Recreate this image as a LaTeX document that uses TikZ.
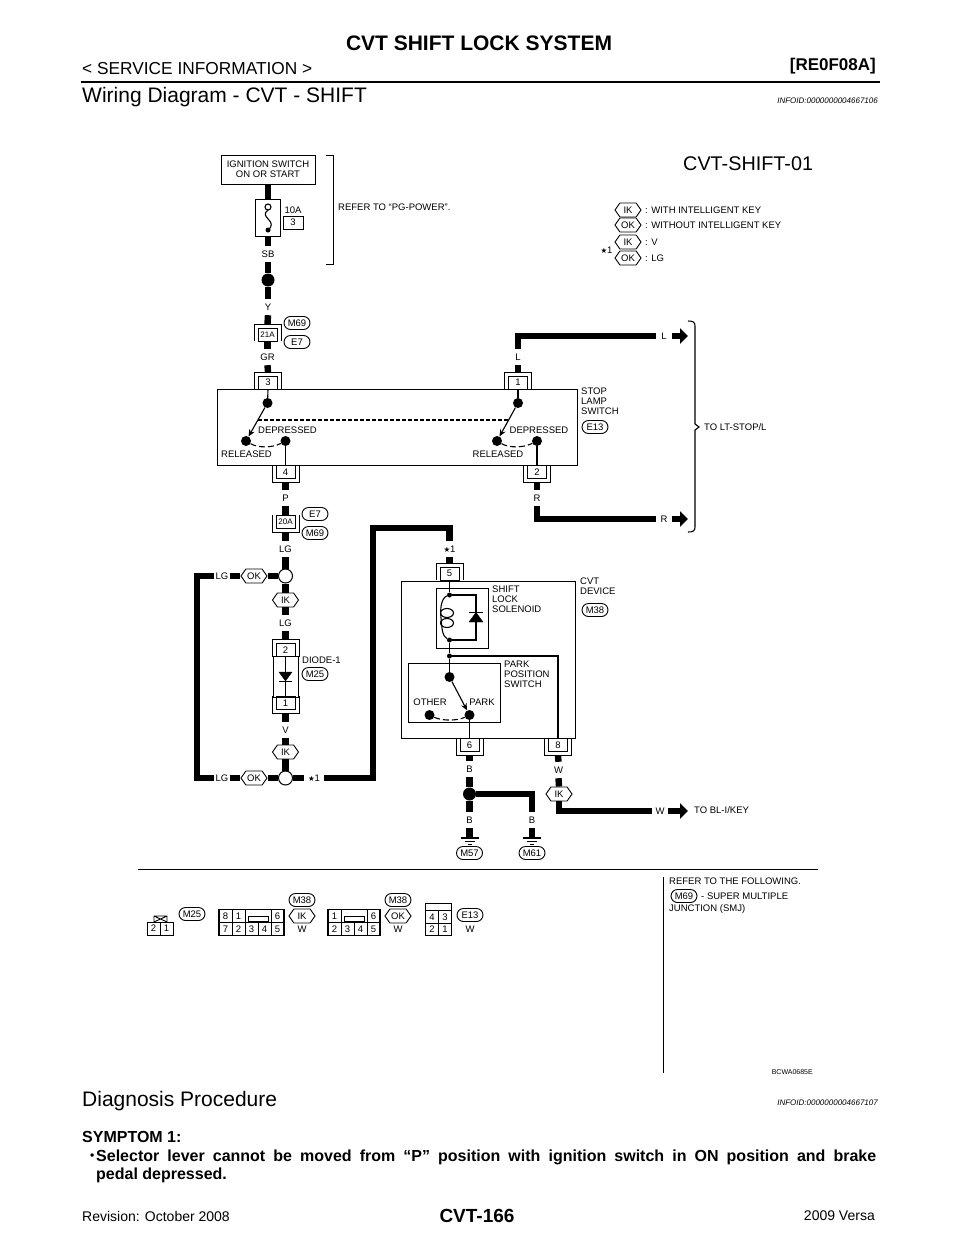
\documentclass[tikz,border=0pt]{standalone}
\usepackage{fontspec}
\setmainfont{Liberation Sans}
\newfontfamily\symfont{DejaVu Sans}
\usetikzlibrary{shapes.misc,shapes.symbols,arrows.meta,calc}
\newcommand{\lblfont}{\fontsize{9.5}{10}\selectfont}
\newcommand{\starmark}{{\symfont\fontsize{7.5}{8}\selectfont ★}1}
\tikzset{
  wire/.style={line width=6.4pt,black},
  thin wire/.style={line width=1.1pt},
  frame/.style={draw,line width=1pt,inner sep=0pt,fill=white},
  lbl/.style={font=\lblfont,inner sep=0pt},
  wlbl/.style={lbl,minimum height=16pt},
  hlbl/.style={lbl,minimum width=15pt},
  term/.style={draw,line width=.9pt,font=\lblfont,inner sep=0pt,minimum width=19pt,minimum height=13pt,fill=white},
  brk/.style={line width=.9pt},
  pill/.style={draw,line width=.9pt,rounded rectangle,font=\lblfont,inner sep=0pt,minimum width=26pt,minimum height=13pt,fill=white},
  hexa/.style={draw,line width=.9pt,signal,signal to=east and west,signal pointer angle=110,font=\lblfont,inner sep=0pt,minimum width=26pt,minimum height=14pt,fill=white},
  bigdot/.style={circle,fill=black,inner sep=0pt,minimum size=13pt},
  swdot/.style={circle,fill=black,inner sep=0pt,minimum size=10pt},
  smalldot/.style={circle,fill=black,inner sep=0pt,minimum size=5pt},
  opendot/.style={circle,draw,line width=1pt,inner sep=0pt,minimum size=14pt,fill=white},
  lever/.style={line width=1.1pt,-{Stealth[length=7pt,width=6pt]}},
  togo/.style={wire,-{Triangle[length=8pt,width=15pt]}},
  cell/.style={draw,line width=.9pt,font=\lblfont,inner sep=0pt,minimum width=13pt,minimum height=13pt},
}
\begin{document}
\begin{tikzpicture}[x=1pt,y=-1pt]
\useasboundingbox (0,0) rectangle (960,1242);
% page text
\node[font=\bfseries\fontsize{21}{22}\selectfont,inner sep=0pt] (title) at (479,43) {CVT SHIFT LOCK SYSTEM};
\node[font=\fontsize{17.3}{18}\selectfont,anchor=west,inner sep=0pt] (service) at (82,69) {< SERVICE INFORMATION >};
\node[font=\bfseries\fontsize{17}{18}\selectfont,anchor=east,inner sep=0pt] (model) at (876,66.5) {[RE0F08A]};
\draw[line width=2.5pt] (81,82) -- (880,82);
\node[font=\fontsize{21}{22}\selectfont,anchor=west,inner sep=0pt] (head1) at (82,97.5) {Wiring Diagram - CVT - SHIFT};
\node[font=\itshape\fontsize{8}{9}\selectfont,anchor=east,inner sep=0pt] (info1) at (878,101) {INFOID:0000000004667106};
\node[font=\fontsize{19.8}{21}\selectfont,anchor=west,inner sep=0pt] (title2) at (683,164) {CVT-SHIFT-01};
% power part
\node[frame,font=\lblfont,align=center,minimum width=94pt,minimum height=29pt] (ign) at (268,169.5) {IGNITION SWITCH\\ON OR START};
\node[frame,minimum width=25pt,minimum height=37pt] (fuse) at (268,217.5) {};
\draw[wire] (ign.south) -- (fuse.north);
\draw[line width=1.1pt] (268,210) .. controls (258,217) and (279,221) .. (268,230);
\node[circle,draw,line width=1.1pt,inner sep=0pt,minimum size=6pt,fill=white] (fusea) at (268,207) {};
\node[smalldot] (fuseb) at (268,230) {};
\node[lbl] (amp) at (293,210) {10A};
\node[frame,font=\lblfont,minimum width=20pt,minimum height=13pt] (slot) at (293,222.5) {3};
\node[wlbl] (sb) at (268,254) {SB};
\draw[wire] (fuse.south) -- (sb.north);
\node[bigdot] (jc) at (268,280) {};
\draw[wire] (sb.south) -- (jc.north);
\node[wlbl] (y) at (268,307) {Y};
\draw[wire] (jc.south) -- (y.north);
\draw[line width=1pt] (326,155) -- (333,155) -- (333,264) -- (326,264);
\node[lbl,anchor=west] (refer) at (338,207) {REFER TO “PG-POWER”.};
% legend
\foreach \nm/\py/\lab/\txt in {lega/210/IK/WITH INTELLIGENT KEY,legb/225/OK/WITHOUT INTELLIGENT KEY,legc/242/IK/V,legd/258/OK/LG}{
  \node[hexa] (\nm) at (628,\py) {\lab};
  \node[lbl,anchor=west] (\nm t) at (645,\py) {: \txt};
}
\node[lbl] (legstar) at (606.5,250) {\starmark};
% terminals, bracket on top
\foreach \nm/\px/\py/\lab in {t3/268/382.5/3,t1/518/382.5/1,j21/267.5/334.5/\fontsize{8}{8}\selectfont 21A,t5/449.5/573.5/5,d2/285.5/650/2}{
  \node[term] (\nm) at (\px,\py) {\lab};
  \draw[brk] ([xshift=-3.5pt]\nm.south west) |- ([yshift=3.5pt]\nm.north) -| ([xshift=3.5pt]\nm.south east);
}
% terminals, bracket below
\foreach \nm/\px/\py/\lab in {t4/285.5/472/4,t2/537/472/2,j20/285.5/521.5/\fontsize{8}{8}\selectfont 20A,t6/469.5/745/6,t8/558/745/8,d1/285.5/703/1}{
  \node[term] (\nm) at (\px,\py) {\lab};
  \draw[brk] ([xshift=-3.5pt]\nm.north west) |- ([yshift=-3.5pt]\nm.south) -| ([xshift=3.5pt]\nm.north east);
}
\draw[wire] (y.south) -- ([yshift=3.5pt]j21.north);
\node[wlbl] (gr) at (267.5,357) {GR};
\draw[wire] (j21.south) -- (gr.north);
\draw[wire] (gr.south) -- ([yshift=3.5pt]t3.north);
\node[pill] (m69a) at (297,323) {M69};
\node[pill] (e7a) at (297,342) {E7};
% stop lamp switch
\node[frame,minimum width=360pt,minimum height=76pt,fill=none] (stop) at (397,427) {};
\foreach \nm/\px/\py in {swa/267.5/403,swb/518/403,rela/246/441,depa/285.5/441,relb/497/441,depb/537/441}{
  \node[swdot] (\nm) at (\px,\py) {};
}
\draw[thin wire] (t3.south) -- (swa);
\draw[thin wire] (t1.south) -- (swb);
\draw[thin wire] (depa) -- (t4.north);
\draw[thin wire] (depb) -- (t2.north);
\draw[lever] (swa) -- (rela);
\draw[lever] (swb) -- (relb);
\draw[line width=1.1pt,dash pattern=on 6pt off 3pt] (rela) .. controls (258,448) and (272,448) .. (depa);
\draw[line width=1.1pt,dash pattern=on 6pt off 3pt] (relb) .. controls (509,448) and (523,448) .. (depb);
\coordinate (linka) at (258,420);
\coordinate (linkb) at (509,420);
\draw[line width=1.1pt,dash pattern=on 3.5pt off 2.5pt] (linka) -- (linkb);
\foreach \nm/\px/\py/\lab in {da/287.5/430/DEPRESSED,ra/246.5/454/RELEASED,db/539/430/DEPRESSED,rb/498/454/RELEASED}{
  \node[lbl] (\nm) at (\px,\py) {\lab};
}
\node[lbl,anchor=north west,align=left] (stopname) at (581,388) {STOP\\LAMP\\SWITCH};
\node[pill] (e13a) at (595,427) {E13};
% outgoing to LT-STOP
\node[wlbl] (l) at (518,357) {L};
\draw[wire] (l.south) -- ([yshift=3.5pt]t1.north);
\node[hlbl] (lout) at (664,336) {L};
\draw[wire] (l.north) -- (518,336) -- (lout.west);
\coordinate (lend) at (688,336);
\draw[togo] (lout.east) -- (lend);
\node[wlbl] (r) at (537,498) {R};
\draw[wire] ([yshift=-3.5pt]t2.south) -- (r.north);
\node[hlbl] (rout) at (664,519) {R};
\draw[wire] (r.south) -- (537,519) -- (rout.west);
\coordinate (rend) at (688,519);
\draw[togo] (rout.east) -- (rend);
\draw[line width=1.1pt] (688,321) .. controls (693,321) and (695,322) .. (695,326) -- (695,424) -- (699,427) -- (695,430) -- (695,527) .. controls (695,531) and (693,532) .. (688,532);
\node[lbl,anchor=west] (ltstop) at (704,427) {TO LT-STOP/L};
% left column
\node[wlbl] (p) at (285.5,498) {P};
\draw[wire] ([yshift=-3.5pt]t4.south) -- (p.north);
\draw[wire] (p.south) -- (j20.north);
\node[pill] (e7b) at (315,514) {E7};
\node[pill] (m69b) at (315,533) {M69};
\node[wlbl] (lga) at (285.5,549) {LG};
\draw[wire] ([yshift=-3.5pt]j20.south) -- (lga.north);
\node[opendot] (ja) at (285.5,576) {};
\draw[wire] (lga.south) -- (ja.north);
\node[hexa] (oka) at (254,576) {OK};
\draw[wire] (oka.east) -- (ja.west);
\node[hexa] (ika) at (285.5,600) {IK};
\draw[wire] (ja.south) -- (ika.north);
\node[wlbl] (lgb) at (285.5,623) {LG};
\draw[wire] (ika.south) -- (lgb.north);
\draw[wire] (lgb.south) -- ([yshift=3.5pt]d2.north);
\node[frame,minimum width=25pt,minimum height=41pt,fill=none] (diode) at (285.5,676.5) {};
\draw[thin wire] (d2.south) -- (d1.north);
\draw[fill=black] (279,672) -- (292,672) -- (285.5,681) -- cycle;
\draw[thin wire] (279,681.5) -- (292,681.5);
\node[lbl,anchor=west] (diodename) at (302,660) {DIODE-1};
\node[pill] (m25a) at (315,674) {M25};
\node[wlbl] (v) at (285.5,730) {V};
\draw[wire] ([yshift=-3.5pt]d1.south) -- (v.north);
\node[hexa] (ikb) at (285.5,752) {IK};
\draw[wire] (v.south) -- (ikb.north);
\node[opendot] (jb) at (285.5,778) {};
\draw[wire] (ikb.south) -- (jb.north);
\node[hexa] (okb) at (254,778) {OK};
\draw[wire] (okb.east) -- (jb.west);
\node[hlbl] (lgc) at (222,576) {LG};
\node[hlbl] (lgd) at (222,778) {LG};
\draw[wire] (lgc.east) -- (oka.west);
\draw[wire] (lgd.east) -- (okb.west);
\draw[wire] (lgc.west) -- (197,576) -- (197,778) -- (lgd.west);
\node[lbl,minimum width=20pt] (stara) at (314,778) {\starmark};
\draw[wire] (jb.east) -- (stara.west);
\node[lbl,minimum height=16pt] (starb) at (449.5,549) {\starmark};
\draw[wire] (stara.east) -- (373,778) -- (373,528) -- (449.5,528) -- (starb.north);
\draw[wire] (starb.south) -- ([yshift=3.5pt]t5.north);
% cvt device
\node[frame,minimum width=174pt,minimum height=157pt,fill=none] (device) at (488,659.5) {};
\node[frame,minimum width=52pt,minimum height=60pt,fill=none] (sol) at (462,618) {};
\node[frame,minimum width=92pt,minimum height=59pt,fill=none] (pps) at (454,692.5) {};
\foreach \nm/\py in {soltop/595,solbot/640,branch/656}{
  \node[smalldot] (\nm) at (449.5,\py) {};
}
\node[swdot] (parkin) at (449.5,677) {};
\node[swdot] (park) at (469.5,715) {};
\node[swdot] (other) at (429.5,715) {};
\draw[thin wire] (t5.south) -- (soltop);
\draw[thin wire] (solbot) -- (branch);
\draw[line width=1.5pt] (branch) -- (parkin);
\draw[thin wire] (soltop) -| (476,617);
\draw[thin wire] (476,622) |- (solbot);
\draw[fill=black] (476,612.5) -- (483,622) -- (469,622) -- cycle;
\draw[thin wire] (469,612.5) -- (483,612.5);
\draw[thin wire] (soltop) .. controls (441,598) and (440,610) .. (441,618) .. controls (442,628) and (442,636) .. (solbot);
\draw[thin wire] (447,613) ellipse (6.5 and 4.5);
\draw[thin wire] (447,623) ellipse (6.5 and 4.5);
\draw[thin wire] (branch) -| (t8.north);
\draw[lever] (parkin) -- (park);
\draw[line width=1.1pt,dash pattern=on 6pt off 3pt] (other) .. controls (442,721) and (457,721) .. (park);
\draw[thin wire] (park) -- (t6.north);
\node[lbl,anchor=north west,align=left] (solname) at (492,586) {SHIFT\\LOCK\\SOLENOID};
\node[lbl,anchor=north west,align=left] (ppsname) at (504,661) {PARK\\POSITION\\SWITCH};
\node[lbl,anchor=north west,align=left] (devname) at (580,578) {CVT\\DEVICE};
\node[pill] (m38a) at (595,610) {M38};
\node[lbl] (oth) at (430,702) {OTHER};
\node[lbl] (prk) at (482,702) {PARK};
% grounds
\node[wlbl] (ba) at (469.5,769) {B};
\draw[wire] ([yshift=-3.5pt]t6.south) -- (ba.north);
\node[bigdot] (jd) at (469.5,794) {};
\draw[wire] (ba.south) -- (jd.north);
\node[wlbl] (bb) at (469.5,820) {B};
\draw[wire] (jd.south) -- (bb.north);
\node[wlbl] (bc) at (532,820) {B};
\draw[wire] (jd.east) -- (532,794) -- (bc.north);
\foreach \nm/\px/\lab in {gndb/469.5/M57,gndc/532/M61}{
  \coordinate (\nm) at (\px,838);
  \draw[line width=1.1pt] ([xshift=-9pt]\nm) -- ([xshift=9pt]\nm);
  \draw[line width=1.1pt] ($(\nm)+(-5,3.5)$) -- ($(\nm)+(5,3.5)$);
  \draw[line width=1.1pt] ($(\nm)+(-2,6.5)$) -- ($(\nm)+(2,6.5)$);
  \node[pill] (\nm m) at (\px,853) {\lab};
}
\draw[wire] (bb.south) -- (gndb);
\draw[wire] (bc.south) -- (gndc);
\node[wlbl] (wa) at (558.5,770) {W};
\draw[wire] ([yshift=-3.5pt]t8.south) -- (wa.north);
\node[hexa] (ikc) at (559,794) {IK};
\draw[wire] (wa.south) -- (ikc.north);
\node[hlbl] (wb) at (660,811) {W};
\draw[wire] (ikc.south) -- (559,811) -- (wb.west);
\coordinate (wend) at (688,811);
\draw[togo] (wb.east) -- (wend);
\node[lbl,anchor=west] (blkey) at (694,810) {TO BL-I/KEY};
% connector views
\draw[line width=1.2pt] (138,869.5) -- (818,869.5);
\draw[line width=1pt] (663,877) -- (663,1073);
\node[lbl,anchor=west] (refa) at (669,881) {REFER TO THE FOLLOWING.};
\node[pill] (m69c) at (684,896) {M69};
\node[lbl,anchor=west] (refb) at (701,896) {- SUPER MULTIPLE};
\node[lbl,anchor=west] (refc) at (669,909) {JUNCTION (SMJ)};
\node[font=\fontsize{7}{7}\selectfont,inner sep=0pt,anchor=east] (code) at (813,1072) {BCWA0685E};
% M25
\foreach \nm/\px/\lab in {ca/153.5/2,cb/166.5/1}{
  \node[cell] (\nm) at (\px,928.5) {\lab};
}
\draw[line width=.9pt] (154,922) -- (154,916) -- (167,916) -- (167,922) -- (154,916) (167,916) -- (154,922);
\node[pill] (m25b) at (192,914) {M25};
% M38 with IK
\foreach \nm/\px/\lab in {cc/225.5/8,cd/238.5/1,ce/277.5/6}{
  \node[cell] (\nm) at (\px,916) {\lab};
}
\foreach \nm/\px/\lab in {cf/225.5/7,cg/238.5/2,ch/251.5/3,ci/264.5/4,cj/277.5/5}{
  \node[cell] (\nm) at (\px,929) {\lab};
}
\draw[line width=1.4pt] (219,909.5) rectangle (284,935.5);
\draw[line width=.9pt] (248,916) rectangle (268,921);
\node[pill] (m38b) at (302,900) {M38};
\node[hexa] (ikd) at (302,916) {IK};
\node[lbl] (wc) at (302,929) {W};
% M38 with OK
\foreach \nm/\px/\lab in {ck/334.5/1,cl/373.5/6}{
  \node[cell] (\nm) at (\px,916) {\lab};
}
\foreach \nm/\px/\lab in {cm/334.5/2,cn/347.5/3,co/360.5/4,cp/373.5/5}{
  \node[cell] (\nm) at (\px,929) {\lab};
}
\draw[line width=1.4pt] (328,909.5) rectangle (380,935.5);
\draw[line width=.9pt] (344,916) rectangle (364,921);
\node[pill] (m38c) at (398,900) {M38};
\node[hexa] (okc) at (398,916) {OK};
\node[lbl] (wd) at (398,929) {W};
% E13
\foreach \nm/\px/\py/\lab in {cq/432/917/4,cr/445/917/3,cs/432/929.5/2,ct/445/929.5/1}{
  \node[cell,minimum height=12.5pt] (\nm) at (\px,\py) {\lab};
}
\draw[line width=1.4pt] (425.5,903.5) rectangle (451.5,935.5);
\draw[line width=.9pt] (425.5,910.5) -- (451.5,910.5);
\node[pill] (e13b) at (470,915) {E13};
\node[lbl] (we) at (470,929) {W};
% procedure text
\node[font=\fontsize{21}{22}\selectfont,anchor=west,inner sep=0pt] (head2) at (82,1101.5) {Diagnosis Procedure};
\node[font=\itshape\fontsize{8}{9}\selectfont,anchor=east,inner sep=0pt] (info2) at (878,1103) {INFOID:0000000004667107};
\node[font=\bfseries\fontsize{16}{17}\selectfont,anchor=west,inner sep=0pt] (symptom) at (82,1137) {SYMPTOM 1:};
\node[font=\bfseries\fontsize{12}{14}\selectfont,anchor=west,inner sep=0pt] (bullet) at (90,1157) {•};
\node[font=\bfseries\fontsize{16}{17.5}\selectfont,anchor=north west,inner sep=0pt,text width=780pt,align=justify] (body) at (96,1150) {\hbadness=10000 Selector lever cannot be moved from “P” position with ignition switch in ON position and brake\linebreak pedal depressed.};
% footer
\node[font=\fontsize{14}{15}\selectfont,anchor=west,inner sep=0pt] (rev) at (82,1216) {Revision: October 2008};
\node[font=\bfseries\fontsize{19}{20}\selectfont,inner sep=0pt] (pageno) at (477,1216) {CVT-166};
\node[font=\fontsize{14}{15}\selectfont,anchor=east,inner sep=0pt] (year) at (875,1216) {2009 Versa};
\end{tikzpicture}
\end{document}
